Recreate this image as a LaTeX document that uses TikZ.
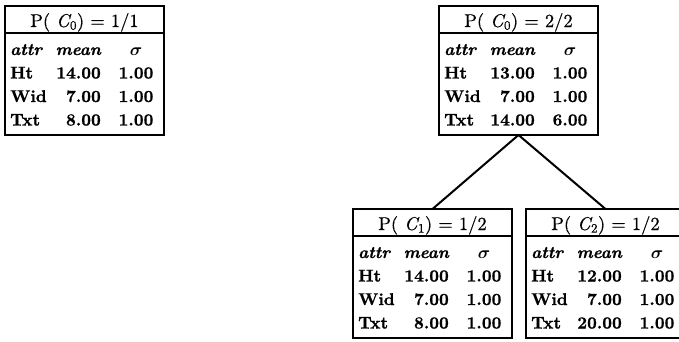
\documentclass[tikz,border=0pt]{standalone}
\usepackage{amsmath}
\usepackage{fontspec}
% 10pt design size of Latin Modern, scaled up and slightly emboldened
\setmainfont{lmroman10}[Extension=.otf, UprightFont=*-regular, BoldFont=*-bold,
  ItalicFont=*-italic, BoldItalicFont=*-bolditalic,
  UprightFeatures={FakeBold=0.6}, ItalicFeatures={FakeBold=0.6},
  BoldFeatures={FakeBold=0.9}, BoldItalicFeatures={FakeBold=0.9}]
\newcommand\clustervar[1]{{\itshape C}\kern0.5pt\textsubscript{#1}}
\tikzset{
  x=1pt, y=-1pt,
  clusterbox/.style={draw, line width=1.5pt, minimum width=159pt, minimum height=129pt,
    inner sep=0pt, outer sep=0pt, anchor=north west},
  rulebar/.style={line width=1.4pt},
  link/.style={line width=2pt},
  titletext/.style={anchor=base, inner sep=0pt, font=\fontsize{18.5}{20}\selectfont},
  cell/.style={inner sep=0pt, font=\fontsize{17}{18}\selectfont\bfseries},
  headcell/.style={inner sep=0pt, font=\fontsize{17}{18}\selectfont\bfseries\itshape},
}
% #1 node name, #2 top-left corner, #3 title, #4 rows as attr/mean/sigma
\newcommand\clusternode[4]{%
  \node[clusterbox] (#1) at (#2) {};
  \draw[rulebar] ([yshift=-27pt]#1.north west) -- ([yshift=-27pt]#1.north east);
  \node[titletext] (#1-t) at ([yshift=-21pt]#1.north) {#3};
  \node[headcell, anchor=base west] (#1-ha) at ([xshift=5pt,yshift=-49pt]#1.north west) {attr};
  \node[headcell, anchor=base east] (#1-hm) at ([xshift=96pt,yshift=-49pt]#1.north west) {mean};
  \node[headcell, anchor=base] (#1-hs) at ([xshift=131pt,yshift=-49pt]#1.north west) {$\boldsymbol{\sigma}$};
  \foreach \a/\m/\s [count=\i] in {#4} {
    \pgfmathsetmacro\dy{-(49+23.5*\i)}
    \node[cell, anchor=base west] (#1-a\i) at ([xshift=5pt,yshift=\dy pt]#1.north west) {\a};
    \node[cell, anchor=base east] (#1-m\i) at ([xshift=96pt,yshift=\dy pt]#1.north west) {\m};
    \node[cell, anchor=base] (#1-s\i) at ([xshift=131pt,yshift=\dy pt]#1.north west) {\s};
  }%
}
\begin{document}
\begin{tikzpicture}
  \useasboundingbox (0,0) rectangle (679,341);
  \clip (0,0) rectangle (679,341);

  \clusternode{single}{5,6}{P( \clustervar{0}) = 1/1}{Ht/14.00/1.00, Wid/7.00/1.00, Txt/8.00/1.00}
  \clusternode{root}{439,6}{P( \clustervar{0}) = 2/2}{Ht/13.00/1.00, Wid/7.00/1.00, Txt/14.00/6.00}
  \clusternode{left}{353,209}{P( \clustervar{1}) = 1/2}{Ht/14.00/1.00, Wid/7.00/1.00, Txt/8.00/1.00}
  \clusternode{right}{526,209}{P( \clustervar{2}) = 1/2}{Ht/12.00/1.00, Wid/7.00/1.00, Txt/20.00/1.00}

  \draw[link] (root.south) -- (left.north);
  \draw[link] (root.south) -- (right.north);
\end{tikzpicture}
\end{document}
